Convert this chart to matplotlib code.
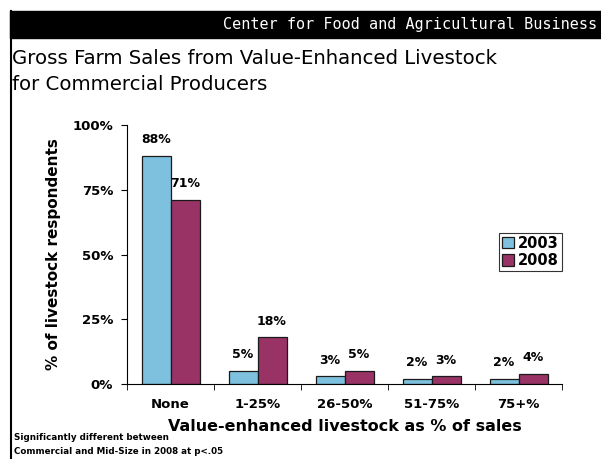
import numpy as np
import matplotlib.pyplot as plt
from matplotlib.patches import Rectangle
from matplotlib.lines import Line2D

# Survey data: share of livestock respondents by value-enhanced share of sales
categories = ["None", "1-25%", "26-50%", "51-75%", "75+%"]
years = ["2003", "2008"]
share_2003 = [88, 5, 3, 2, 2]
share_2008 = [71, 18, 5, 3, 4]
yticks = [0, 25, 50, 75, 100]

W, H = 601, 459
fig = plt.figure(figsize=(W / 100, H / 100), dpi=100)

def fx(px):
    return px / W

def fy(py):
    return 1 - py / H

# header bar and left rule
fig.patches.append(Rectangle((fx(10), fy(38)), 1, fy(11) - fy(38),
                             transform=fig.transFigure, color="black", zorder=0))
fig.lines.append(Line2D([fx(11), fx(11)], [0, fy(11)], transform=fig.transFigure,
                        color="black", lw=1.5))
fig.text(fx(597), fy(25), "Center for Food and Agricultural Business",
         color="white", fontsize=10.9, va="center", ha="right",
         family="DejaVu Sans Mono")

fig.text(fx(12), fy(58), "Gross Farm Sales from Value-Enhanced Livestock",
         fontsize=14.2, va="center", ha="left")
fig.text(fx(12), fy(84), "for Commercial Producers",
         fontsize=14.2, va="center", ha="left")

ax = fig.add_axes([fx(127), fy(384), fx(562) - fx(127), fy(125) - fy(384)])

x = np.arange(len(categories))
w = 1 / 3
b1 = ax.bar(x - w / 2, share_2003, w, color="#7EC1DE", edgecolor="#1a1a1a",
            linewidth=0.9, label=years[0])
b2 = ax.bar(x + w / 2, share_2008, w, color="#993366", edgecolor="#1a1a1a",
            linewidth=0.9, label=years[1])

for bars, vals in [(b1, share_2003), (b2, share_2008)]:
    for bar, v in zip(bars, vals):
        ax.annotate(f"{v}%", (bar.get_x() + bar.get_width() / 2, v),
                    xytext=(0, 7), textcoords="offset points",
                    ha="center", va="bottom", fontsize=9, fontweight="bold")

ax.set_xlim(-0.5, len(categories) - 0.5)
ax.set_ylim(0, 100)
ax.set_yticks(yticks)
ax.set_yticklabels([f"{t}%" for t in yticks], fontsize=9.5, fontweight="bold")
ax.set_xticks(x)
ax.set_xticklabels(categories, fontsize=9.5, fontweight="bold")
ax.tick_params(axis="x", length=0, pad=10)
ax.tick_params(axis="y", length=4, pad=6)
ax.set_xticks(np.arange(len(categories) + 1) - 0.5, minor=True)
ax.tick_params(axis="x", which="minor", length=4, direction="out")

for s in ["top", "right"]:
    ax.spines[s].set_visible(False)
ax.spines["left"].set_linewidth(0.8)
ax.spines["bottom"].set_linewidth(0.8)

ax.set_ylabel("% of livestock respondents", fontsize=11, fontweight="bold",
              labelpad=8)
ax.set_xlabel("Value-enhanced livestock as % of sales", fontsize=11.5,
              fontweight="bold", labelpad=6)

leg = ax.legend(loc="upper right", bbox_to_anchor=(1.0, (384 - 233) / 259),
                prop={"weight": "bold", "size": 10.5}, frameon=True,
                fancybox=False, edgecolor="black", handlelength=0.8,
                handleheight=0.8, handletextpad=0.3, borderpad=0.2,
                labelspacing=0.15, borderaxespad=0)
leg.get_frame().set_linewidth(0.8)

fig.text(fx(14), fy(437), "Significantly different between", fontsize=6.3,
         fontweight="bold", va="center", ha="left")
fig.text(fx(14), fy(452), "Commercial and Mid-Size in 2008 at p<.05", fontsize=6.3,
         fontweight="bold", va="center", ha="left")

fig.savefig("out.png", dpi=100)
